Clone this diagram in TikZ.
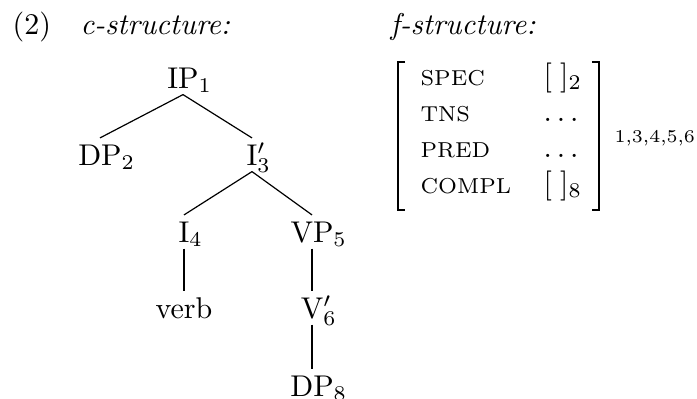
\documentclass[tikz,border=0pt]{standalone}
\begin{document}
\begin{tikzpicture}[x=0.3333pt,y=-0.3333pt,
  cat/.style={inner xsep=0pt, inner ysep=2pt, text height=6.83pt, text depth=0pt, anchor=base},
  lbl/.style={inner sep=0pt, anchor=base west},
  attr/.style={inner sep=0pt, anchor=base west, font=\fontsize{7.2}{8.6}\selectfont},
  edge/.style={line width=0.4pt},
  brk/.style={line width=0.65pt}]
\useasboundingbox (0,0) rectangle (697,398);
% headings
\node[lbl] (ex) at (12,34) {(2)};
\node[lbl] (cs) at (80,34) {\textit{c-structure:}};
\node[lbl] (fs) at (390,34) {\textit{f-structure:}};
% c-structure tree
\node[cat] (ip)   at (183,88)  {IP\rlap{$_1$}};
\node[cat] (dp2)  at (100,165) {DP\rlap{$_2$}};
\node[cat] (ibar) at (252,165) {I\rlap{$'_3$}};
\node[cat] (i4)   at (184,242) {I\rlap{$_4$}};
\node[cat] (vp)   at (312,242) {VP\rlap{$_5$}};
\node[cat] (verb) at (184,318) {verb};
\node[cat] (vbar) at (312,318) {V\rlap{$'_6$}};
\node[cat] (dp8)  at (312,396) {DP\rlap{$_8$}};
\draw[edge] (ip.south) -- (dp2.north);
\draw[edge] (ip.south) -- (ibar.north);
\draw[edge] (ibar.south) -- (i4.north);
\draw[edge] (ibar.south) -- (vp.north);
\draw[edge] (i4.south) -- (verb.north);
\draw[edge] (vp.south) -- (vbar.north);
\draw[edge] (vbar.south) -- (dp8.north);
% f-structure
\coordinate (lt) at (398,62);
\coordinate (lb) at (398,210);
\coordinate (rt) at (599,62);
\coordinate (rb) at (599,210);
\draw[brk] ([xshift=2.4pt]lt) -- (lt) -- (lb) -- ([xshift=2.4pt]lb);
\draw[brk] ([xshift=-2.4pt]rt) -- (rt) -- (rb) -- ([xshift=-2.4pt]rb);
\node[attr] (aspec)  at (420,85)  {SPEC};
\node[attr] (atns)   at (420,121) {TNS};
\node[attr] (apred)  at (420,157) {PRED};
\node[attr] (acompl) at (420,193) {COMPL};
\node[lbl] (vspec)  at (543,85)  {$[\;]_2$};
\node[lbl] (vtns)   at (543,121) {$\dots$};
\node[lbl] (vpred)  at (543,157) {$\dots$};
\node[lbl] (vcompl) at (543,193) {$[\;]_8$};
\node[lbl, font=\fontsize{6}{7}\selectfont] (idx) at (614,142) {1,3,4,5,6};
\end{tikzpicture}
\end{document}
